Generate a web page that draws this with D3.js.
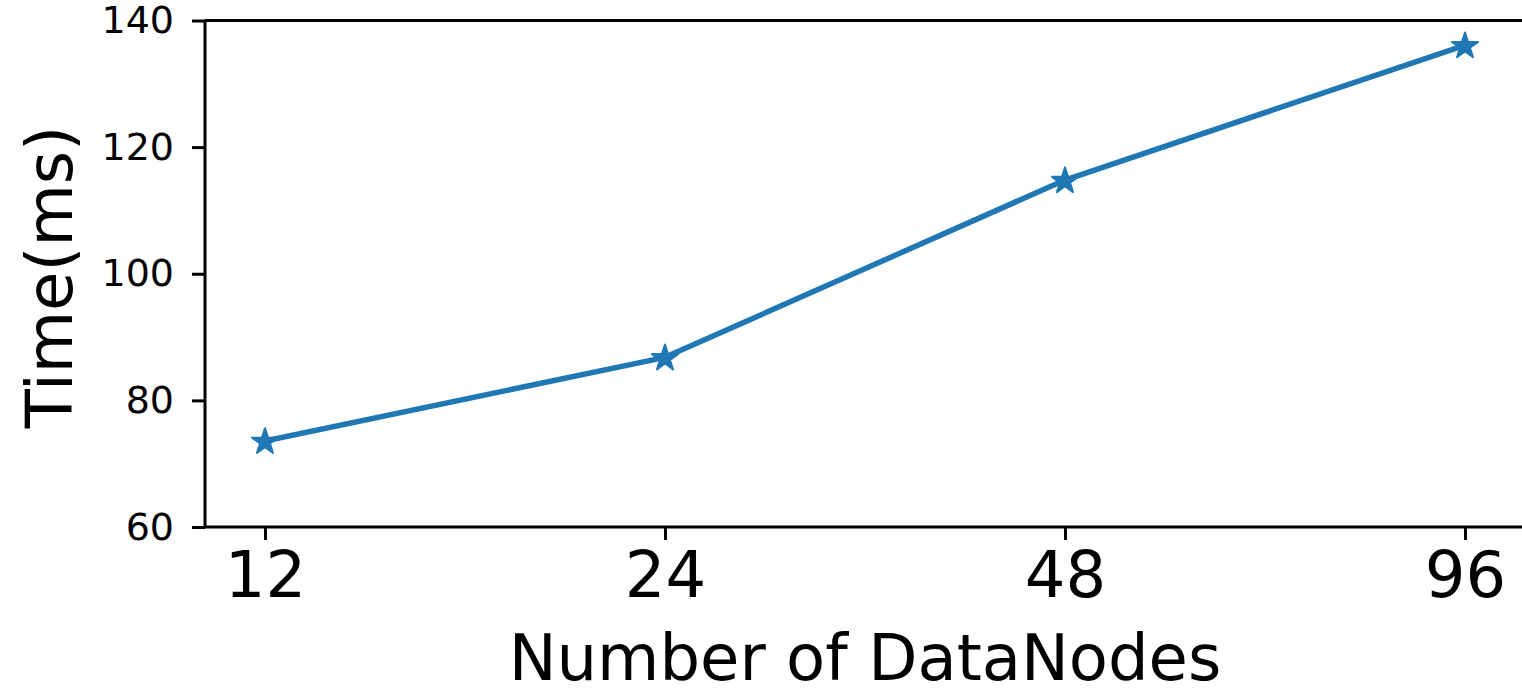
<!DOCTYPE html>
<html>
<head>
<meta charset="utf-8">
<script src="https://cdn.jsdelivr.net/npm/d3@7"></script>
<style>
  html, body { margin: 0; padding: 0; background: #fff; }
  svg { display: block; }
  text { font-family: "DejaVu Sans", sans-serif; fill: #000; }
</style>
</head>
<body>
<svg id="chart" width="1522" height="688"></svg>
<script>
// Query time versus cluster size
const nodeCounts = ["12", "24", "48", "96"];
const timeMs = [73.6, 86.8, 114.8, 136.1];
const yTicks = [60, 80, 100, 120, 140];

const W = 1522, H = 688;
const plot = { left: 205, right: 1525, top: 20.5, bottom: 527 };
const color = "#1f77b4";

const svg = d3.select("#chart");

// categories sit at evenly spaced positions with a small margin at each end
const x = d3.scaleLinear()
  .domain([-0.15, nodeCounts.length - 1 + 0.15])
  .range([plot.left, plot.right]);
const y = d3.scaleLinear()
  .domain([60, 140])
  .range([plot.bottom, plot.top]);

// top spine
svg.append("line")
  .attr("x1", plot.left).attr("x2", plot.right)
  .attr("y1", plot.top).attr("y2", plot.top)
  .attr("stroke", "#000").attr("stroke-width", 3);

// y axis
const yAxis = svg.append("g")
  .attr("transform", `translate(${plot.left},0)`)
  .call(d3.axisLeft(y).tickValues(yTicks).tickSize(13).tickPadding(18).tickFormat(d3.format("d")));
yAxis.select(".domain").attr("stroke-width", 3).attr("d", `M0,${plot.bottom}V${plot.top}`);
yAxis.selectAll(".tick line").attr("stroke-width", 3);
yAxis.selectAll(".tick text").style("font-size", "38px").attr("font-family", "DejaVu Sans").attr("fill", "#000");

// x axis
const xAxis = svg.append("g")
  .attr("transform", `translate(0,${plot.bottom})`)
  .call(d3.axisBottom(x).tickValues(d3.range(nodeCounts.length)).tickSize(13).tickPadding(12)
    .tickFormat(i => nodeCounts[i]));
xAxis.select(".domain").attr("stroke-width", 3).attr("d", `M${plot.left},0H${plot.right}`);
xAxis.selectAll(".tick line").attr("stroke-width", 3);
xAxis.selectAll(".tick text").style("font-size", "64px").attr("font-family", "DejaVu Sans").attr("fill", "#000");

// axis titles
svg.append("text")
  .attr("x", 865).attr("y", 680)
  .attr("text-anchor", "middle")
  .style("font-size", "64px")
  .text("Number of DataNodes");
svg.append("text")
  .attr("transform", "translate(72,277) rotate(-90)")
  .attr("text-anchor", "middle")
  .style("font-size", "64px")
  .text("Time(ms)");

// series line
const line = d3.line()
  .x((d, i) => x(i))
  .y(d => y(d));
svg.append("path")
  .datum(timeMs)
  .attr("d", line)
  .attr("fill", "none")
  .attr("stroke", color)
  .attr("stroke-width", 5.5)
  .attr("stroke-linejoin", "round")
  .attr("stroke-linecap", "square");

// star markers
const star = d3.symbol().type(d3.symbolStar).size(210);
svg.append("g").selectAll("path")
  .data(timeMs)
  .join("path")
  .attr("transform", (d, i) => `translate(${x(i)},${y(d) + 1})`)
  .attr("d", star)
  .attr("fill", color)
  .attr("stroke", color)
  .attr("stroke-width", 2)
  .attr("stroke-linejoin", "round");
</script>
</body>
</html>
